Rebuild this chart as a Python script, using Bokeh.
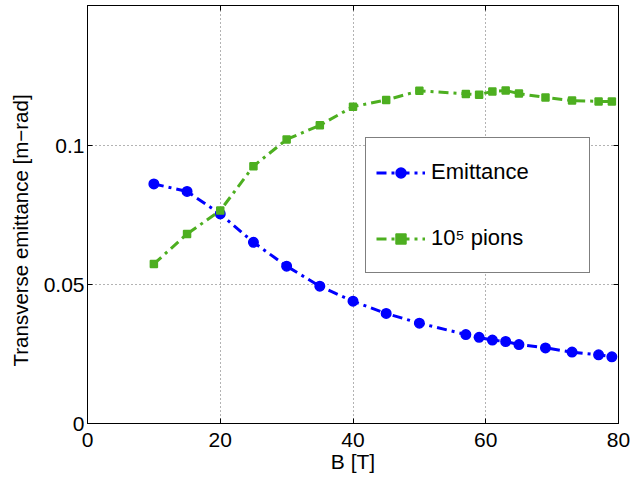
from bokeh.plotting import figure
from bokeh.models import Range1d, LinearAxis, FixedTicker, Legend, LegendItem, Title
from bokeh.embed import file_html
from bokeh.resources import INLINE

# ---- data ----
B_field = [10, 15, 20, 25, 30, 35, 40, 45, 50, 57, 59, 61, 63, 65, 69, 73, 77, 79]
emittance = [0.0862, 0.0835, 0.0754, 0.0652, 0.0566, 0.0494, 0.0440, 0.0396, 0.0361,
             0.0320, 0.0310, 0.0300, 0.0295, 0.0284, 0.0272, 0.0257, 0.0247, 0.0240]
pions = [0.0574, 0.0682, 0.0766, 0.0926, 0.1022, 0.1073, 0.1140, 0.1164, 0.1197,
         0.1186, 0.1183, 0.1195, 0.1198, 0.1187, 0.1173, 0.1162, 0.1159, 0.1159]
series_names = ["Emittance", "10\u2075 pions"]
x_ticks = [0, 20, 40, 60, 80]
y_ticks = [0, 0.05, 0.1]
y_tick_labels = ["0", "0.05", "0.1"]
x_label = "B [T]"
y_label = "Transverse emittance [m\u2212rad]"

BLUE = "#0000ff"
GREEN = "#4daf20"
FONT = "Liberation Sans"

p = figure(width=631, height=483, output_backend="svg", toolbar_location=None,
           x_range=Range1d(0, 80), y_range=Range1d(0, 0.1504),
           min_border_left=87, min_border_right=13, min_border_top=5,
           min_border_bottom=60)
p.background_fill_color = "white"
p.border_fill_color = "white"
p.outline_line_color = "black"
p.outline_line_width = 1

# axes
xa = p.xaxis[0]
ya = p.yaxis[0]
xa.ticker = FixedTicker(ticks=x_ticks)
ya.ticker = FixedTicker(ticks=y_ticks)
ya.major_label_overrides = {t: s for t, s in zip(y_ticks, y_tick_labels)}
xa.axis_label = x_label
for ax in (xa, ya):
    ax.major_tick_in = 5
    ax.major_tick_out = 0
    ax.minor_tick_line_color = None
    ax.axis_line_color = "black"
    ax.major_tick_line_color = "black"
    ax.major_label_text_font = FONT
    ax.major_label_text_font_size = "21px"
    ax.major_label_text_color = "black"
    ax.axis_label_text_font = FONT
    ax.axis_label_text_font_size = "21px"
    ax.axis_label_text_font_style = "normal"
    ax.axis_label_text_color = "black"
xa.major_label_standoff = 9
xa.axis_label_standoff = 0
ya.major_label_standoff = 3

for loc, tk in (("above", x_ticks), ("right", y_ticks)):
    ax = LinearAxis(ticker=FixedTicker(ticks=tk), major_tick_in=5, major_tick_out=0,
                    minor_tick_line_color=None, axis_line_color="black",
                    major_label_text_font_size="0px", major_label_text_color=None,
                    major_label_standoff=0)
    p.add_layout(ax, loc)

# y axis title, placed like the original (starts near the bottom of the frame)
p.add_layout(Title(text=y_label, align="left", offset=57, vertical_align="top",
                   text_font=FONT, text_font_size="20.5px", text_font_style="normal",
                   text_color="black", standoff=14), "left")

# grid
p.xgrid.ticker = FixedTicker(ticks=x_ticks)
p.ygrid.ticker = FixedTicker(ticks=y_ticks)
for g in (p.xgrid, p.ygrid):
    g.grid_line_color = "black"
    g.grid_line_alpha = 0.6
    g.grid_line_dash = "1 3"
    g.grid_line_width = 1

# series
l1 = p.line(B_field, emittance, line_color=BLUE, line_width=3, line_dash="10 5 3 5")
m1 = p.scatter(B_field, emittance, marker="circle", size=9.5, fill_color=BLUE,
               line_color=BLUE, line_width=1.5)
l2 = p.line(B_field, pions, line_color=GREEN, line_width=3, line_dash="10 5 3 5")
m2 = p.scatter(B_field, pions, marker="square", size=7, fill_color=GREEN,
               line_color=GREEN, line_width=1.5)

legend = Legend(items=[LegendItem(label=series_names[0], renderers=[l1, m1]),
                       LegendItem(label=series_names[1], renderers=[l2, m2])],
                location=(278, 150), glyph_width=49, glyph_height=25,
                label_height=48, label_width=148, label_standoff=6, spacing=18,
                padding=10, margin=0, border_line_color="black", border_line_width=1,
                background_fill_color="white", background_fill_alpha=1,
                label_text_font=FONT, label_text_font_size="22px",
                label_text_color="black")
p.add_layout(legend)

open("out.html", "w").write(file_html(p, INLINE))
